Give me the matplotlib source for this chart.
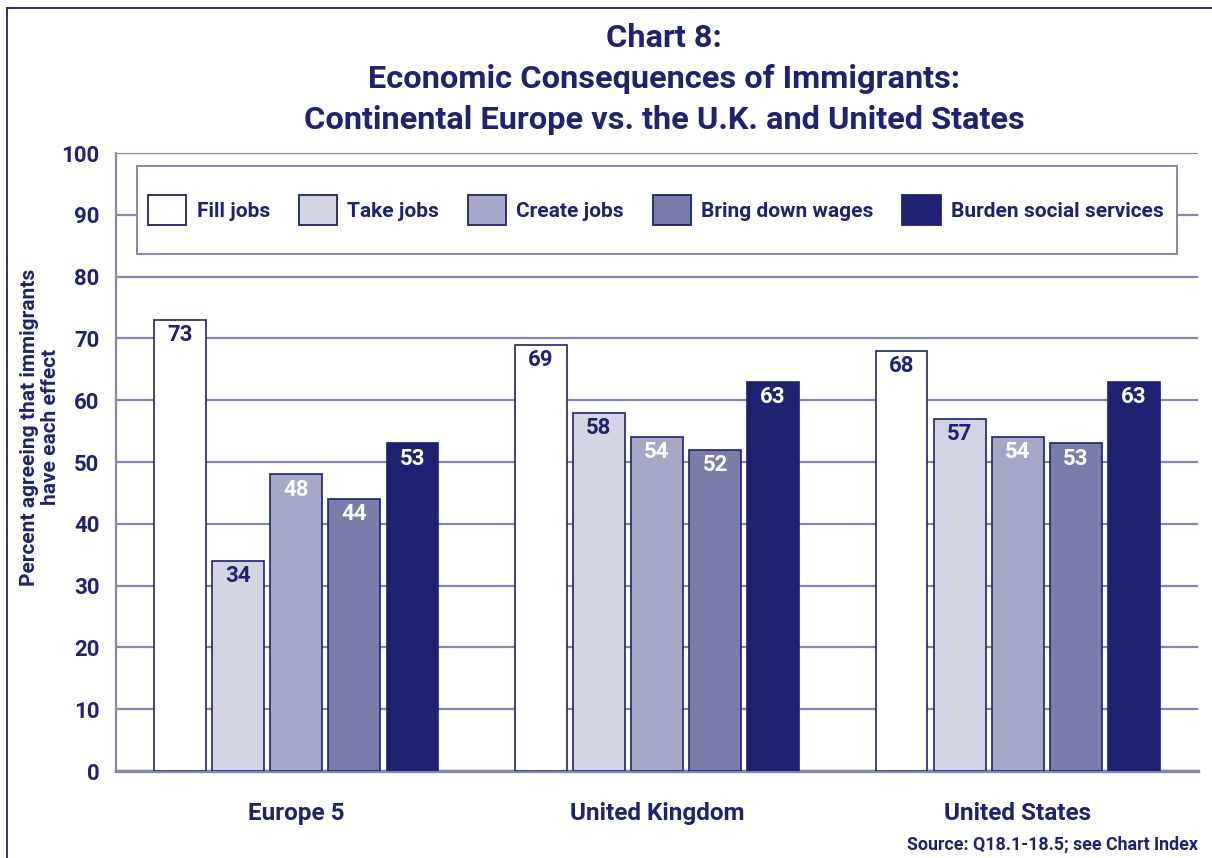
import numpy as np
import matplotlib.pyplot as plt
from matplotlib.patches import Rectangle, Patch
from matplotlib.lines import Line2D

# ------------------------------------------------------------
# Chart 8: Economic consequences of immigrants
# ------------------------------------------------------------

regions = ["Europe 5", "United Kingdom", "United States"]
effects = ["Fill jobs", "Take jobs", "Create jobs", "Bring down wages",
           "Burden social services"]
fill_jobs = [73, 69, 68]
take_jobs = [34, 58, 57]
create_jobs = [48, 54, 54]
bring_down_wages = [44, 52, 53]
burden_services = [53, 63, 63]
yticks = [0, 10, 20, 30, 40, 50, 60, 70, 80, 90, 100]

NAVY = "#1f2270"
GRID = "#8385b5"
bar_colors = ["#ffffff", "#d3d5e4", "#a6a8c7", "#7a7caa", "#1f2270"]
label_colors = [NAVY, NAVY, "white", "white", "white"]

plt.rcParams["font.family"] = ["Roboto", "DejaVu Sans"]
W = "bold"

fig = plt.figure(figsize=(12.12, 8.58), dpi=100)
ax = fig.add_axes([116 / 1212, 1 - 771 / 858, 1082 / 1212, 618 / 858])

series = [fill_jobs, take_jobs, create_jobs, bring_down_wages, burden_services]
x = np.arange(len(regions))
step = 0.161
width = 0.144
for i, (vals, col, lc) in enumerate(zip(series, bar_colors, label_colors)):
    pos = x + (i - 2) * step
    bars = ax.bar(pos, vals, width=width, color=col, edgecolor=NAVY,
                  linewidth=1.2, zorder=3, label=effects[i])
    for b, v in zip(bars, vals):
        ax.annotate(f"{v}", (b.get_x() + b.get_width() / 2, v),
                    xytext=(0, -3), textcoords="offset points",
                    ha="center", va="top", fontsize=16, color=lc,
                    fontweight=W, zorder=4)

ax.set_xlim(-0.5, 2.5)
ax.set_ylim(0, 100)
ax.set_yticks(yticks)
ax.set_yticklabels([str(t) for t in yticks], fontsize=16, color=NAVY,
                   fontweight=W)
ax.tick_params(axis="y", length=0, pad=12)
ax.set_xticks(x)
ax.set_xticklabels(regions, fontsize=17.5, color=NAVY, fontweight=W)
ax.tick_params(axis="x", length=0, pad=22)
ax.grid(axis="y", color=GRID, linewidth=1.6, zorder=0)
for s in ["top", "right"]:
    ax.spines[s].set_visible(False)
ax.spines["left"].set_color(GRID)
ax.spines["left"].set_linewidth(1.6)
ax.spines["bottom"].set_color(GRID)
ax.spines["bottom"].set_linewidth(2.4)

# legend box (white, on top of gridlines)
lx0 = (137 - 116) / 1082
ly0 = (771 - 254) / 618
lw = (1177 - 137) / 1082
lh = (254 - 166) / 618
ax.add_patch(Rectangle((lx0, ly0), lw, lh, transform=ax.transAxes,
                       facecolor="white", edgecolor=GRID, linewidth=1.4,
                       zorder=5))
handles = [Patch(facecolor=c, edgecolor=NAVY, linewidth=1.3) for c in bar_colors]
leg = ax.legend(handles, effects, loc="center", ncol=5, frameon=False,
                bbox_to_anchor=(lx0 + lw / 2 - 0.001, ly0 + lh / 2),
                handlelength=1.83, handleheight=1.83,
                handletextpad=0.5, columnspacing=1.38,
                prop={"weight": W, "size": 15})
for t in leg.get_texts():
    t.set_color(NAVY)
leg.set_zorder(6)

fig.text(40 / 1212, 1 - 427 / 858,
         "Percent agreeing that immigrants\nhave each effect",
         rotation=90, ha="center", va="center", fontsize=15, color=NAVY,
         fontweight=W, linespacing=1.15)

title_lines = ["Chart 8:", "Economic Consequences of Immigrants:",
               "Continental Europe vs. the U.K. and United States"]
for line, yy in zip(title_lines, [38, 79, 120]):
    fig.text(664 / 1212, 1 - yy / 858, line, ha="center", va="center",
             fontsize=23.4, color=NAVY, fontweight=W)

fig.text(1198 / 1212, 1 - 845 / 858, "Source: Q18.1-18.5; see Chart Index",
         ha="right", va="center", fontsize=12.8, color=NAVY, fontweight=W)

# outer frame (left and top edges visible)
fig.add_artist(Line2D([7 / 1212, 7 / 1212], [0, 1 - 8 / 858],
                      transform=fig.transFigure, color=NAVY, linewidth=1.3))
fig.add_artist(Line2D([7 / 1212, 1], [1 - 8 / 858, 1 - 8 / 858],
                      transform=fig.transFigure, color=NAVY, linewidth=1.3))

fig.savefig("out.png", dpi=100)
plt.close(fig)
